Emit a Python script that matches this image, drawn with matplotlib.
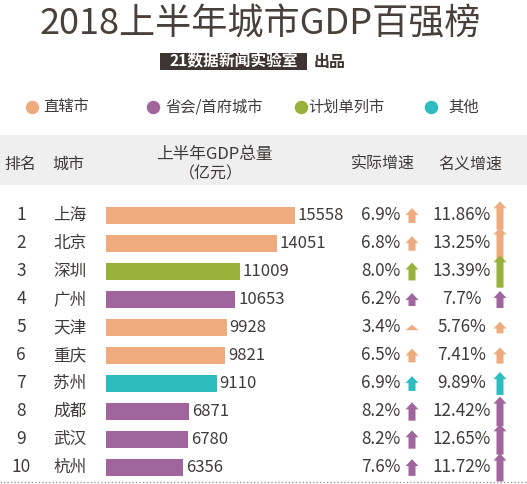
import matplotlib
matplotlib.use("Agg")
import matplotlib.pyplot as plt
from matplotlib.patches import Polygon, Rectangle

plt.rcParams['font.family'] = ['Noto Sans CJK SC', 'DejaVu Sans']

# ---------------- data ----------------
ranks = [1, 2, 3, 4, 5, 6, 7, 8, 9, 10]
cities = ["上海", "北京", "深圳", "广州", "天津", "重庆", "苏州", "成都", "武汉", "杭州"]
gdp = [15558, 14051, 11009, 10653, 9928, 9821, 9110, 6871, 6780, 6356]
real_growth = [6.9, 6.8, 8.0, 6.2, 3.4, 6.5, 6.9, 8.2, 8.2, 7.6]
nominal_growth = [11.86, 13.25, 13.39, 7.7, 5.76, 7.41, 9.89, 12.42, 12.65, 11.72]
city_type = ["直辖市", "直辖市", "计划单列市", "省会/首府城市", "直辖市",
             "直辖市", "其他", "省会/首府城市", "省会/首府城市", "省会/首府城市"]
legend_labels = ["直辖市", "省会/首府城市", "计划单列市", "其他"]

title = "2018上半年城市GDP百强榜"
subtitle_box = "21数据新闻实验室"
subtitle_tail = "出品"
headers = ["排名", "城市", "上半年GDP总量", "（亿元）", "实际增速", "名义增速"]

# ---------------- style ----------------
type_colors = {"直辖市": "#efaa7d", "省会/首府城市": "#a0659d",
               "计划单列市": "#97b13b", "其他": "#2ebdbf"}
TXT = "#3f3b3a"
TITLE_C = "#4a403b"

W, H = 527, 484
fig = plt.figure(figsize=(W / 100, H / 100), dpi=100)
fig.patch.set_facecolor("white")

# overlay axes in pixel coordinates
ov = fig.add_axes([0, 0, 1, 1])
ov.set_xlim(0, W)
ov.set_ylim(H, 0)
ov.axis("off")

# title / subtitle
ov.text(260, 25, title, ha="center", va="center", fontsize=26, color=TITLE_C,
        fontweight="light")
ov.add_patch(Rectangle((160, 53), 147, 16.5, color="#3e3532", lw=0))
ov.text(233.5, 61.5, subtitle_box, ha="center", va="center", fontsize=11.3,
        color="white", fontweight="bold")
ov.text(330, 61.5, subtitle_tail, ha="center", va="center", fontsize=11.5,
        color="#3e3532", fontweight="bold")

# legend
leg_x = [32, 153, 301, 431]
leg_tx = [43, 165, 308, 448]
for lx, tx, lab in zip(leg_x, leg_tx, legend_labels):
    ov.scatter([lx], [107], s=75, color=type_colors[lab], zorder=3)
    ov.text(tx, 107, lab, ha="left", va="center", fontsize=11, color=TXT)

# header band
ov.add_patch(Rectangle((0, 135), W, 50, color="#f0efef", lw=0, zorder=0))
ov.text(20, 164, headers[0], ha="center", va="center", fontsize=11.5, color=TXT)
ov.text(68, 164, headers[1], ha="center", va="center", fontsize=11.5, color=TXT)
ov.text(214, 154, headers[2], ha="center", va="center", fontsize=12, color=TXT)
ov.text(211, 174, headers[3], ha="center", va="center", fontsize=11.5, color=TXT)
ov.text(383, 164, headers[4], ha="center", va="center", fontsize=11.5, color=TXT)
ov.text(470, 164, headers[5], ha="center", va="center", fontsize=11.5, color=TXT)

# row geometry
ROW0, ROW_H = 215.5, 28.0
BAR_X0, BAR_X1 = 106, 295   # pixel span for the max bar

# bar axes (data coordinates)
n = len(gdp)
top_px = ROW0 - ROW_H / 2
bot_px = ROW0 + ROW_H * (n - 0.5)
k = (BAR_X1 - BAR_X0) / max(gdp)
bx = fig.add_axes([BAR_X0 / W, 1 - bot_px / H, (W - BAR_X0) / W, (bot_px - top_px) / H])
bx.set_xlim(0, (W - BAR_X0) / k)
bx.set_ylim(n - 0.5, -0.5)
bx.axis("off")
bx.patch.set_alpha(0)
colors = [type_colors[t] for t in city_type]
bars = bx.barh(range(n), gdp, height=0.6, color=colors, lw=0)
bx.bar_label(bars, labels=[str(v) for v in gdp], padding=2, fontsize=12,
             color=TXT)


def arrow(xc, yc, h, color):
    hw, sw = 6.5, 3.5
    head = min(7, h)
    top, bot = yc - h / 2, yc + h / 2
    pts = [(xc - hw, top + head), (xc, top), (xc + hw, top + head)]
    if h > head:
        pts += [(xc + sw, top + head), (xc + sw, bot), (xc - sw, bot),
                (xc - sw, top + head)]
    ov.add_patch(Polygon(pts, closed=True, color=color, lw=0, zorder=3))


ARROW_SCALE, ARROW_BASE = 2.7, 1.4
for i in range(n):
    y = ROW0 + ROW_H * i
    c = colors[i]
    ov.text(21, y, str(ranks[i]), ha="center", va="center", fontsize=12.5, color=TXT)
    ov.text(70, y, cities[i], ha="center", va="center", fontsize=12, color=TXT)
    ov.text(381, y, f"{real_growth[i]:.1f}%", ha="center", va="center",
            fontsize=12.3, color=TXT)
    ov.text(462, y, f"{nominal_growth[i]}%", ha="center", va="center",
            fontsize=12.3, color=TXT)
    arrow(412, y, ARROW_SCALE * (real_growth[i] - ARROW_BASE), c)
    arrow(500, y, ARROW_SCALE * (nominal_growth[i] - ARROW_BASE), c)

# dotted bottom line
ov.plot([0, W], [482, 482], ls=(0, (1, 1.5)), color="#9a9a9a", lw=1)

fig.savefig("out.png", dpi=100, facecolor="white")
